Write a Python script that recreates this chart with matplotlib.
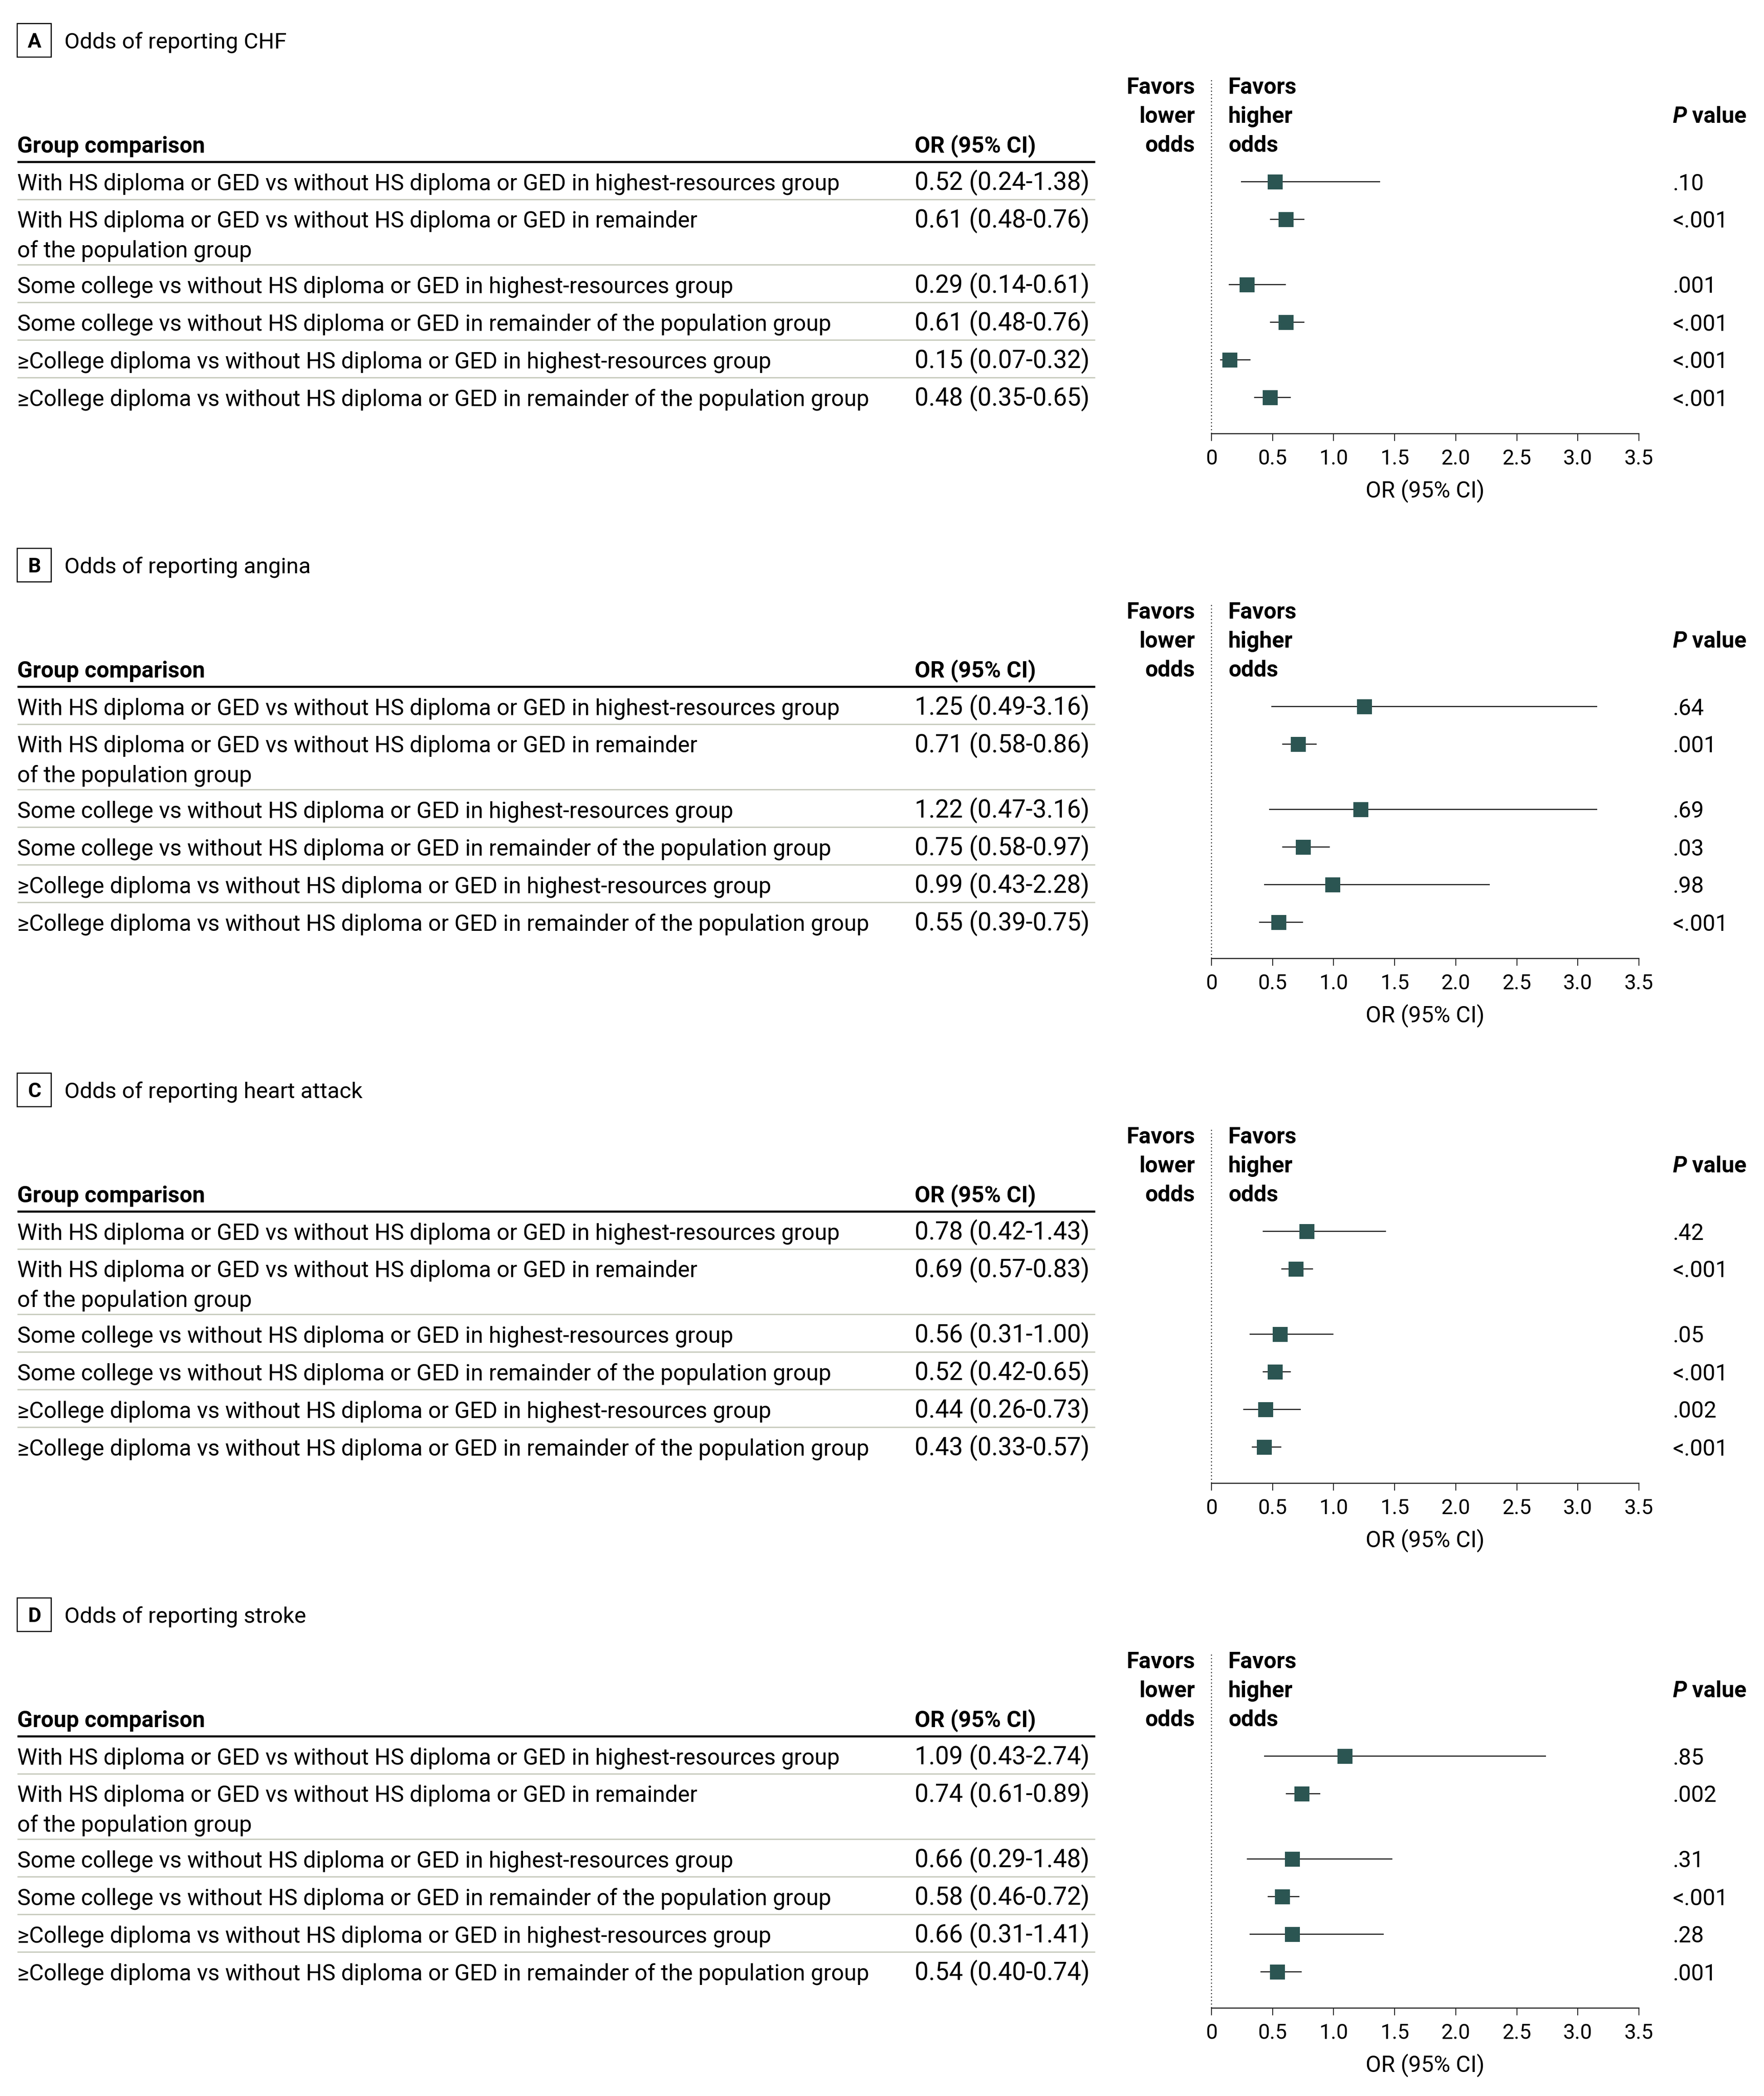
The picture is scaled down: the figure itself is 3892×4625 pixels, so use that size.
import matplotlib
matplotlib.use('Agg')
import matplotlib.pyplot as plt
from matplotlib import font_manager as fm
from matplotlib.textpath import TextPath
from matplotlib.font_manager import FontProperties
from matplotlib.patches import Rectangle

# ---------------- data ----------------
LABELS = [
    "With HS diploma or GED vs without HS diploma or GED in highest-resources group",
    "With HS diploma or GED vs without HS diploma or GED in remainder\nof the population group",
    "Some college vs without HS diploma or GED in highest-resources group",
    "Some college vs without HS diploma or GED in remainder of the population group",
    "≥College diploma vs without HS diploma or GED in highest-resources group",
    "≥College diploma vs without HS diploma or GED in remainder of the population group",
]
PANEL_LETTERS = ["A", "B", "C", "D"]
PANEL_TITLES = ["Odds of reporting CHF", "Odds of reporting angina",
                "Odds of reporting heart attack", "Odds of reporting stroke"]

OR_CHF = [0.52, 0.61, 0.29, 0.61, 0.15, 0.48]
LO_CHF = [0.24, 0.48, 0.14, 0.48, 0.07, 0.35]
HI_CHF = [1.38, 0.76, 0.61, 0.76, 0.32, 0.65]
P_CHF = [".10", "<.001", ".001", "<.001", "<.001", "<.001"]

OR_ANG = [1.25, 0.71, 1.22, 0.75, 0.99, 0.55]
LO_ANG = [0.49, 0.58, 0.47, 0.58, 0.43, 0.39]
HI_ANG = [3.16, 0.86, 3.16, 0.97, 2.28, 0.75]
P_ANG = [".64", ".001", ".69", ".03", ".98", "<.001"]

OR_HA = [0.78, 0.69, 0.56, 0.52, 0.44, 0.43]
LO_HA = [0.42, 0.57, 0.31, 0.42, 0.26, 0.33]
HI_HA = [1.43, 0.83, 1.00, 0.65, 0.73, 0.57]
P_HA = [".42", "<.001", ".05", "<.001", ".002", "<.001"]

OR_STR = [1.09, 0.74, 0.66, 0.58, 0.66, 0.54]
LO_STR = [0.43, 0.61, 0.29, 0.46, 0.31, 0.40]
HI_STR = [2.74, 0.89, 1.48, 0.72, 1.41, 0.74]
P_STR = [".85", ".002", ".31", "<.001", ".28", ".001"]

XTICKS = [0, 0.5, 1.0, 1.5, 2.0, 2.5, 3.0, 3.5]
XTICK_LABELS = ["0", "0.5", "1.0", "1.5", "2.0", "2.5", "3.0", "3.5"]

PANELS = [
    (OR_CHF, LO_CHF, HI_CHF, P_CHF),
    (OR_ANG, LO_ANG, HI_ANG, P_ANG),
    (OR_HA, LO_HA, HI_HA, P_HA),
    (OR_STR, LO_STR, HI_STR, P_STR),
]

# ---------------- figure / fonts ----------------
W, H = 3892, 4625
DPI = 100
PX = 72.0 / DPI  # points per pixel

available = {f.name for f in fm.fontManager.ttflist}
candidates = ["Fira Sans", "Noto Sans", "Lato", "Open Sans", "Roboto", "Inter",
              "Liberation Sans", "DejaVu Sans"]
REF_LABEL = LABELS[0]
TARGET_W = 1810.0
TARGET_CAP = 37.0


def extents(family, s, weight="normal"):
    fp = FontProperties(family=family, weight=weight)
    return TextPath((0, 0), s, size=100, prop=fp).get_extents()


best = None
for fam in candidates:
    if fam not in available:
        continue
    try:
        w100 = extents(fam, REF_LABEL).width
        cap100 = extents(fam, "H").height
    except Exception:
        continue
    em = TARGET_W * 100.0 / w100
    cap = cap100 / 100.0 * em
    score = abs(cap - TARGET_CAP)
    if best is None or score < best[0]:
        best = (score, fam, em, cap100)

_, FAM, EM_PX, CAP100 = best
plt.rcParams["font.family"] = [FAM, "DejaVu Sans"]


def fit_size(s, target_px, weight="normal"):
    w100 = extents(FAM, s, weight).width
    return target_px * 100.0 / w100 * PX


FS = EM_PX * PX                                   # body font size (pt)
FS_OR = fit_size("0.52 (0.24-1.38)", 379.0)       # OR column
FS_TITLE = fit_size("Odds of reporting CHF", 487.0)
FS_TICK = (33.0 / (CAP100 / 100.0)) * PX
FS_BOX = (32.0 / (extents(FAM, "B", "bold").height / 100.0)) * PX

fig = plt.figure(figsize=(W / DPI, H / DPI), dpi=DPI)
bg = fig.add_axes([0, 0, 1, 1])
bg.set_xlim(0, W)
bg.set_ylim(H, 0)
bg.axis("off")

# layout (pixels, relative to top of each panel)
PANEL_OFF = 1158.0
X_LEFT = 38
X_RULE_R = 2416
X_OR = 2018
X_P = 3690
AX_L, AX_R = 2673, 3616
AX_TOP, AX_BOTTOM = 175, 957
RULE_Y = 357
ROW_H1 = 83
ROW_EXTRA = 61
LINE_PITCH = 65
CENTER_OFF = 43.5
BASE_SHIFT = 19
SQ_COLOR = "#2b5552"
SEP_COLOR = "#c9ccbf"

for k in range(4):
    off = k * PANEL_OFF
    ors, los, his, ps = PANELS[k]

    # panel label box & title
    bg.add_patch(Rectangle((38, off + 52), 75, 74, fill=False, ec="black", lw=2.5 * PX))
    bg.text(75.5, off + 105, PANEL_LETTERS[k], ha="center", va="baseline",
            fontsize=FS_BOX, fontweight="bold")
    bg.text(142, off + 107, PANEL_TITLES[k], ha="left", va="baseline", fontsize=FS_TITLE)

    # header
    bg.text(X_LEFT, off + 337, "Group comparison", ha="left", va="baseline",
            fontsize=FS, fontweight="bold")
    bg.text(X_OR, off + 337, "OR (95% CI)", ha="left", va="baseline",
            fontsize=FS, fontweight="bold")
    for j, (wl, wr) in enumerate([("Favors", "Favors"), ("lower", "higher"), ("odds", "odds")]):
        yb = off + 207 + j * 64
        bg.text(2637, yb, wl, ha="right", va="baseline", fontsize=FS, fontweight="bold")
        bg.text(2710, yb, wr, ha="left", va="baseline", fontsize=FS, fontweight="bold")
    tP = bg.text(X_P, off + 271, "P", ha="left", va="baseline", fontsize=FS,
                 fontweight="bold", fontstyle="italic")
    bg.annotate(" value", xy=(1, 0), xycoords=tP, ha="left", va="bottom",
                fontsize=FS, fontweight="bold")

    bg.plot([X_LEFT, X_RULE_R], [off + RULE_Y, off + RULE_Y], color="black",
            lw=4.5 * PX, solid_capstyle="butt")

    # rows
    top = RULE_Y
    ys = []
    for i, lab in enumerate(LABELS):
        lines = lab.split("\n")
        yc = top + CENTER_OFF
        ys.append(yc)
        for li, ln in enumerate(lines):
            bg.text(X_LEFT, off + yc + BASE_SHIFT + li * LINE_PITCH, ln, ha="left",
                    va="baseline", fontsize=FS)
        bg.text(X_OR, off + yc + BASE_SHIFT, f"{ors[i]:.2f} ({los[i]:.2f}-{his[i]:.2f})",
                ha="left", va="baseline", fontsize=FS_OR)
        bg.text(X_P, off + yc + BASE_SHIFT, ps[i], ha="left", va="baseline", fontsize=FS)
        top = top + ROW_H1 + ROW_EXTRA * (len(lines) - 1)
        if i < len(LABELS) - 1:
            bg.plot([X_LEFT, X_RULE_R], [off + top, off + top], color=SEP_COLOR,
                    lw=3 * PX, solid_capstyle="butt")

    # forest axes
    ax = fig.add_axes([AX_L / W, 1 - (off + AX_BOTTOM) / H,
                       (AX_R - AX_L) / W, (AX_BOTTOM - AX_TOP) / H])
    ax.set_xlim(0, 3.5)
    ax.set_ylim(AX_BOTTOM, AX_TOP)
    ax.patch.set_alpha(0)
    for s in ["top", "left", "right"]:
        ax.spines[s].set_visible(False)
    ax.spines["bottom"].set_linewidth(2.5 * PX)
    ax.spines["bottom"].set_color("#222222")
    ax.set_yticks([])
    ax.set_xticks(XTICKS)
    ax.set_xticklabels(XTICK_LABELS)
    ax.tick_params(axis="x", length=16 * PX, width=2 * PX, pad=17 * PX,
                   labelsize=FS_TICK, color="#222222", labelcolor="black")
    ax.axvline(0, color="black", lw=2.2 * PX, linestyle=(0, (1, 2.5)), clip_on=False)
    ax.hlines(ys, los, his, color="#1a1a1a", lw=2.5 * PX, zorder=2)
    ax.plot(ors, ys, "s", ms=33 * PX, color=SQ_COLOR, mec=SQ_COLOR, mew=0, zorder=3,
            linestyle="none")
    bg.text((AX_L + AX_R) / 2, off + 1083, "OR (95% CI)", ha="center", va="center",
            fontsize=FS)

fig.savefig("out.png", dpi=DPI)
